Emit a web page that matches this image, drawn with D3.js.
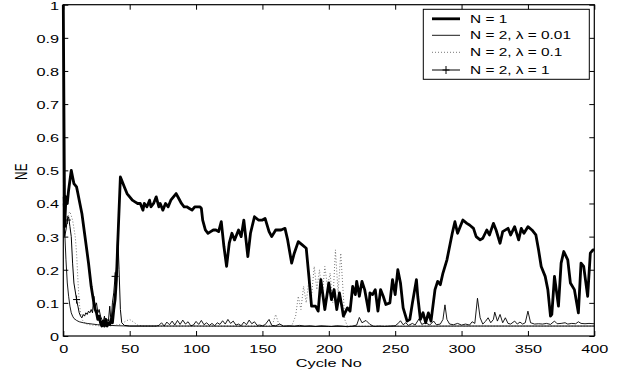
<!DOCTYPE html>
<html>
<head>
<meta charset="utf-8">
<script src="https://cdn.jsdelivr.net/npm/d3@7"></script>
<style>
  body { margin: 0; background: #fff; }
  text { font-family: "Liberation Sans", Arial, sans-serif; fill: #000; }
</style>
</head>
<body>
<div id="vis"></div>
<script>
// ---- data ----
const xTicks = [0, 50, 100, 150, 200, 250, 300, 350, 400];
const yTicks = [0, 0.1, 0.2, 0.3, 0.4, 0.5, 0.6, 0.7, 0.8, 0.9, 1];

// N = 1
const n1Cycle = [0, 1, 2, 3, 4, 5, 6, 7, 8, 10, 11, 12, 14, 16, 18, 19, 21, 23, 24, 25, 26, 27, 28, 29, 30, 31, 32, 33, 34, 35, 36, 37, 38, 39, 40, 41, 42, 43, 44, 46, 48, 50, 52, 54, 56, 58, 60, 61, 63, 65, 66, 68, 70, 72, 73, 75, 77, 79, 81, 83, 85, 87, 89, 91, 93, 95, 97, 99, 101, 103, 104, 105, 107, 109, 111, 113, 115, 117, 119, 121, 123, 125, 127, 129, 132, 134, 136, 139, 141, 144, 147, 150, 152, 155, 157, 160, 164, 167, 169, 172, 174, 177, 180, 183, 185, 187, 190, 192, 194, 197, 200, 202, 204, 206, 208, 210, 211, 214, 216, 218, 220, 221, 223, 225, 227, 230, 231, 233, 235, 237, 239, 241, 243, 246, 248, 250, 252, 254, 256, 259, 261, 263, 266, 267, 269, 271, 273, 275, 277, 280, 282, 284, 286, 289, 291, 293, 295, 297, 301, 304, 306, 309, 311, 314, 316, 319, 321, 324, 326, 329, 331, 335, 337, 340, 343, 345, 347, 350, 353, 356, 358, 360, 363, 365, 367, 368, 370, 373, 375, 377, 380, 382, 385, 388, 390, 392, 395, 397, 399, 400];
const n1NE = [1.0, 0.33, 0.42, 0.40, 0.44, 0.47, 0.50, 0.48, 0.46, 0.45, 0.43, 0.41, 0.37, 0.31, 0.25, 0.22, 0.15, 0.10, 0.08, 0.07, 0.05, 0.06, 0.04, 0.03, 0.045, 0.03, 0.05, 0.03, 0.04, 0.035, 0.05, 0.04, 0.08, 0.11, 0.17, 0.28, 0.38, 0.48, 0.47, 0.45, 0.43, 0.42, 0.41, 0.405, 0.40, 0.40, 0.38, 0.40, 0.39, 0.41, 0.39, 0.40, 0.42, 0.39, 0.40, 0.38, 0.40, 0.39, 0.41, 0.42, 0.43, 0.415, 0.40, 0.39, 0.39, 0.385, 0.38, 0.39, 0.39, 0.39, 0.385, 0.35, 0.32, 0.31, 0.315, 0.32, 0.32, 0.315, 0.345, 0.27, 0.21, 0.28, 0.31, 0.29, 0.32, 0.30, 0.35, 0.24, 0.31, 0.36, 0.35, 0.35, 0.355, 0.315, 0.30, 0.32, 0.32, 0.325, 0.29, 0.22, 0.25, 0.285, 0.275, 0.265, 0.18, 0.09, 0.09, 0.075, 0.17, 0.08, 0.16, 0.11, 0.14, 0.08, 0.13, 0.085, 0.06, 0.085, 0.075, 0.15, 0.125, 0.165, 0.12, 0.165, 0.14, 0.075, 0.13, 0.125, 0.14, 0.075, 0.14, 0.12, 0.095, 0.10, 0.17, 0.125, 0.20, 0.16, 0.085, 0.045, 0.05, 0.10, 0.17, 0.12, 0.05, 0.07, 0.04, 0.07, 0.045, 0.14, 0.165, 0.155, 0.19, 0.23, 0.27, 0.31, 0.345, 0.31, 0.35, 0.34, 0.335, 0.325, 0.30, 0.29, 0.295, 0.32, 0.305, 0.34, 0.32, 0.28, 0.315, 0.325, 0.305, 0.33, 0.29, 0.325, 0.31, 0.33, 0.32, 0.305, 0.26, 0.21, 0.18, 0.14, 0.06, 0.065, 0.18, 0.09, 0.22, 0.255, 0.23, 0.16, 0.14, 0.07, 0.22, 0.21, 0.12, 0.25, 0.26, 0.26];

// N = 2, lambda = 0.01
const l001Cycle = [0, 1, 2, 3, 4, 5, 6, 7, 8, 10, 12, 15, 18, 22, 26, 30, 35, 40, 50, 60, 70, 72, 74, 76, 78, 80, 82, 84, 86, 88, 90, 92, 94, 96, 98, 100, 102, 104, 106, 108, 110, 112, 114, 116, 118, 120, 122, 124, 126, 128, 130, 132, 134, 136, 138, 140, 142, 144, 146, 148, 150, 152, 155, 157, 160, 163, 166, 170, 174, 178, 182, 186, 190, 194, 198, 202, 206, 210, 214, 218, 221, 223, 225, 228, 231, 234, 238, 242, 246, 250, 252, 254, 256, 258, 260, 263, 265, 268, 270, 273, 276, 279, 281, 284, 286, 287.5, 289, 291, 294, 297, 300, 303, 306, 308, 310, 312, 314, 316, 318, 320, 322, 324, 325, 327, 329, 331, 333, 335, 337, 340, 342, 344, 346, 348, 350, 352, 355, 358, 361, 364, 367, 370, 372, 375, 378, 380, 383, 386, 388, 390, 393, 396, 400];
const l001NE = [0.40, 0.32, 0.23, 0.16, 0.12, 0.09, 0.07, 0.06, 0.053, 0.047, 0.043, 0.04, 0.038, 0.036, 0.034, 0.033, 0.032, 0.031, 0.03, 0.03, 0.03, 0.032, 0.04, 0.03, 0.042, 0.034, 0.045, 0.033, 0.047, 0.035, 0.048, 0.036, 0.043, 0.031, 0.033, 0.044, 0.035, 0.047, 0.034, 0.04, 0.032, 0.038, 0.031, 0.04, 0.035, 0.046, 0.036, 0.05, 0.038, 0.045, 0.033, 0.036, 0.031, 0.042, 0.034, 0.048, 0.037, 0.043, 0.032, 0.033, 0.031, 0.034, 0.05, 0.032, 0.031, 0.036, 0.03, 0.031, 0.03, 0.032, 0.03, 0.031, 0.029, 0.031, 0.03, 0.029, 0.031, 0.03, 0.028, 0.03, 0.033, 0.056, 0.04, 0.047, 0.035, 0.029, 0.03, 0.029, 0.03, 0.031, 0.037, 0.046, 0.034, 0.04, 0.032, 0.038, 0.033, 0.052, 0.035, 0.04, 0.033, 0.045, 0.034, 0.036, 0.05, 0.094, 0.05, 0.036, 0.034, 0.038, 0.033, 0.036, 0.033, 0.043, 0.038, 0.114, 0.055, 0.036, 0.044, 0.055, 0.04, 0.05, 0.072, 0.045, 0.065, 0.04, 0.055, 0.038, 0.036, 0.045, 0.036, 0.042, 0.036, 0.04, 0.075, 0.04, 0.036, 0.037, 0.036, 0.038, 0.035, 0.045, 0.037, 0.038, 0.04, 0.036, 0.038, 0.037, 0.043, 0.038, 0.037, 0.038, 0.037];

// N = 2, lambda = 0.1
const l01Cycle = [0, 2, 4, 5, 7, 9, 10, 11, 12, 13, 14, 16, 18, 22, 28, 35, 40, 44, 47, 50, 53, 56, 60, 100, 155, 158, 160, 162, 165, 172, 175, 177, 179, 181, 183, 185, 187, 189, 191, 193, 195, 197, 199, 201, 203, 205, 207, 209, 211, 212, 214, 300, 400];
const l01NE = [0.35, 0.33, 0.37, 0.375, 0.35, 0.30, 0.25, 0.17, 0.10, 0.07, 0.05, 0.04, 0.035, 0.033, 0.03, 0.03, 0.033, 0.036, 0.045, 0.05, 0.042, 0.033, 0.03, 0.03, 0.03, 0.04, 0.065, 0.04, 0.03, 0.03, 0.06, 0.12, 0.08, 0.15, 0.10, 0.17, 0.12, 0.21, 0.14, 0.20, 0.12, 0.21, 0.15, 0.19, 0.10, 0.26, 0.13, 0.25, 0.12, 0.05, 0.03, 0.03, 0.03];

// N = 2, lambda = 1
const l1Cycle = [0, 1, 2, 3, 4, 5, 6, 7, 8, 10, 11, 12, 13, 14, 15, 16, 17, 18, 19, 20, 21, 22, 23, 24, 25, 26, 27, 28, 29, 30, 31, 32, 33, 34, 35, 36, 37, 38, 39, 40, 41, 42, 43, 44, 46, 50, 100, 200, 300, 400];
const l1NE = [0.42, 0.30, 0.32, 0.35, 0.36, 0.33, 0.30, 0.22, 0.16, 0.11, 0.09, 0.07, 0.06, 0.055, 0.065, 0.06, 0.07, 0.065, 0.075, 0.07, 0.08, 0.07, 0.12, 0.09, 0.10, 0.07, 0.08, 0.06, 0.05, 0.04, 0.06, 0.03, 0.05, 0.045, 0.09, 0.04, 0.10, 0.13, 0.18, 0.20, 0.31, 0.20, 0.08, 0.04, 0.032, 0.03, 0.03, 0.029, 0.03, 0.03];
const l1Marks = [3, 10, 39];

const legendLabels = ["N = 1", "N = 2, \u03bb = 0.01", "N = 2, \u03bb = 0.1", "N = 2, \u03bb = 1"];

// ---- frame ----
const W = 618, H = 377;
const mLeft = 63.3, mRight = 594.3, mTop = 4.7, mBottom = 336;
const stretch = 1.38; // picture text is wide

let svg = d3.select("#vis").append("svg").attr("width", W).attr("height", H);

let x = d3.scaleLinear().domain([0, 400]).range([mLeft, mRight]);
let y = d3.scaleLinear().domain([0, 1]).range([mBottom, mTop]);

// axes with inward ticks on all four sides
let gx = svg.append("g").attr("transform", "translate(0," + mBottom + ")")
  .call(d3.axisBottom(x).tickValues(xTicks).tickSize(-5).tickSizeOuter(0).tickFormat(d3.format("d")));
gx.selectAll("text").attr("y", 0).attr("dy", null)
  .attr("transform", "translate(0,17) scale(" + stretch + ",1)")
  .style("font-size", "11.8px");

let gy = svg.append("g").attr("transform", "translate(" + mLeft + ",0)")
  .call(d3.axisLeft(y).tickValues(yTicks).tickSize(-5).tickSizeOuter(0).tickFormat(d3.format("~g")));
gy.selectAll("text").attr("x", 0).attr("dy", null)
  .attr("transform", "translate(-4.3,4.5) scale(" + stretch + ",1)")
  .style("font-size", "11.8px");

svg.append("g").attr("transform", "translate(0," + mTop + ")")
  .call(d3.axisTop(x).tickValues(xTicks).tickSize(-5).tickSizeOuter(0).tickFormat(""));
svg.append("g").attr("transform", "translate(" + mRight + ",0)")
  .call(d3.axisRight(y).tickValues(yTicks).tickSize(-5).tickSizeOuter(0).tickFormat(""));

svg.selectAll(".domain").remove();
svg.selectAll(".tick line").attr("stroke", "#000").attr("stroke-width", 1);

// lines
let line = d3.line().x((d) => x(d[0])).y((d) => y(d[1]));
let zipped = (a, b) => a.map((v, i) => [v, b[i]]);

svg.append("path").datum(zipped(l01Cycle, l01NE)).attr("d", line)
  .attr("fill", "none").attr("stroke", "#777").attr("stroke-width", 1)
  .attr("stroke-dasharray", "1,2");

svg.append("path").datum(zipped(l1Cycle, l1NE)).attr("d", line)
  .attr("fill", "none").attr("stroke", "#000").attr("stroke-width", 1);

let plus = "M-3.5,0H3.5M0,-4V4";
svg.append("g").selectAll("path")
  .data(l1Marks.map((c) => [c, l1NE[l1Cycle.indexOf(c)]]))
  .enter().append("path")
  .attr("d", plus)
  .attr("transform", (d) => "translate(" + x(d[0]) + "," + y(d[1]) + ")")
  .attr("stroke", "#000").attr("stroke-width", 1);

svg.append("path").datum(zipped(l001Cycle, l001NE)).attr("d", line)
  .attr("fill", "none").attr("stroke", "#000").attr("stroke-width", 0.9)
  .attr("stroke-linejoin", "round");

svg.append("path").datum(zipped(n1Cycle, n1NE)).attr("d", line)
  .attr("fill", "none").attr("stroke", "#000").attr("stroke-width", 2.8)
  .attr("stroke-linejoin", "round");

// plot box
svg.append("rect").attr("x", mLeft).attr("y", mTop)
  .attr("width", mRight - mLeft).attr("height", mBottom - mTop)
  .attr("fill", "none").attr("stroke", "#000").attr("stroke-width", 1.2);

// axis titles
svg.append("text").attr("text-anchor", "middle").style("font-size", "11.8px")
  .attr("transform", "translate(" + (mLeft + mRight) / 2 + ",366.5) scale(" + stretch + ",1)")
  .text("Cycle No");
svg.append("text").attr("text-anchor", "middle").style("font-size", "11.8px")
  .attr("transform", "translate(27.3,171.7) scale(" + stretch + ",1) rotate(-90)")
  .text("NE");

// legend
let lg = svg.append("g");
lg.append("rect").attr("x", 423.3).attr("y", 9.3).attr("width", 166).attr("height", 70)
  .attr("fill", "#fff").attr("stroke", "#000").attr("stroke-width", 1);
let rowY = [18.8, 35.3, 52.3, 70];
let styles = [
  { w: 2.8, c: "#000", dash: null },
  { w: 0.9, c: "#000", dash: null },
  { w: 1, c: "#777", dash: "1,2" },
  { w: 1, c: "#000", dash: null },
];
legendLabels.forEach((lab, i) => {
  lg.append("line").attr("x1", 432).attr("x2", 460).attr("y1", rowY[i]).attr("y2", rowY[i])
    .attr("stroke", styles[i].c).attr("stroke-width", styles[i].w)
    .attr("stroke-dasharray", styles[i].dash);
  lg.append("text").style("font-size", "11px")
    .attr("transform", "translate(470," + (rowY[i] + 4) + ") scale(1.4,1)")
    .text(lab);
});
lg.append("path").attr("d", plus).attr("transform", "translate(446," + rowY[3] + ")")
  .attr("stroke", "#000").attr("stroke-width", 1);
</script>
</body>
</html>
